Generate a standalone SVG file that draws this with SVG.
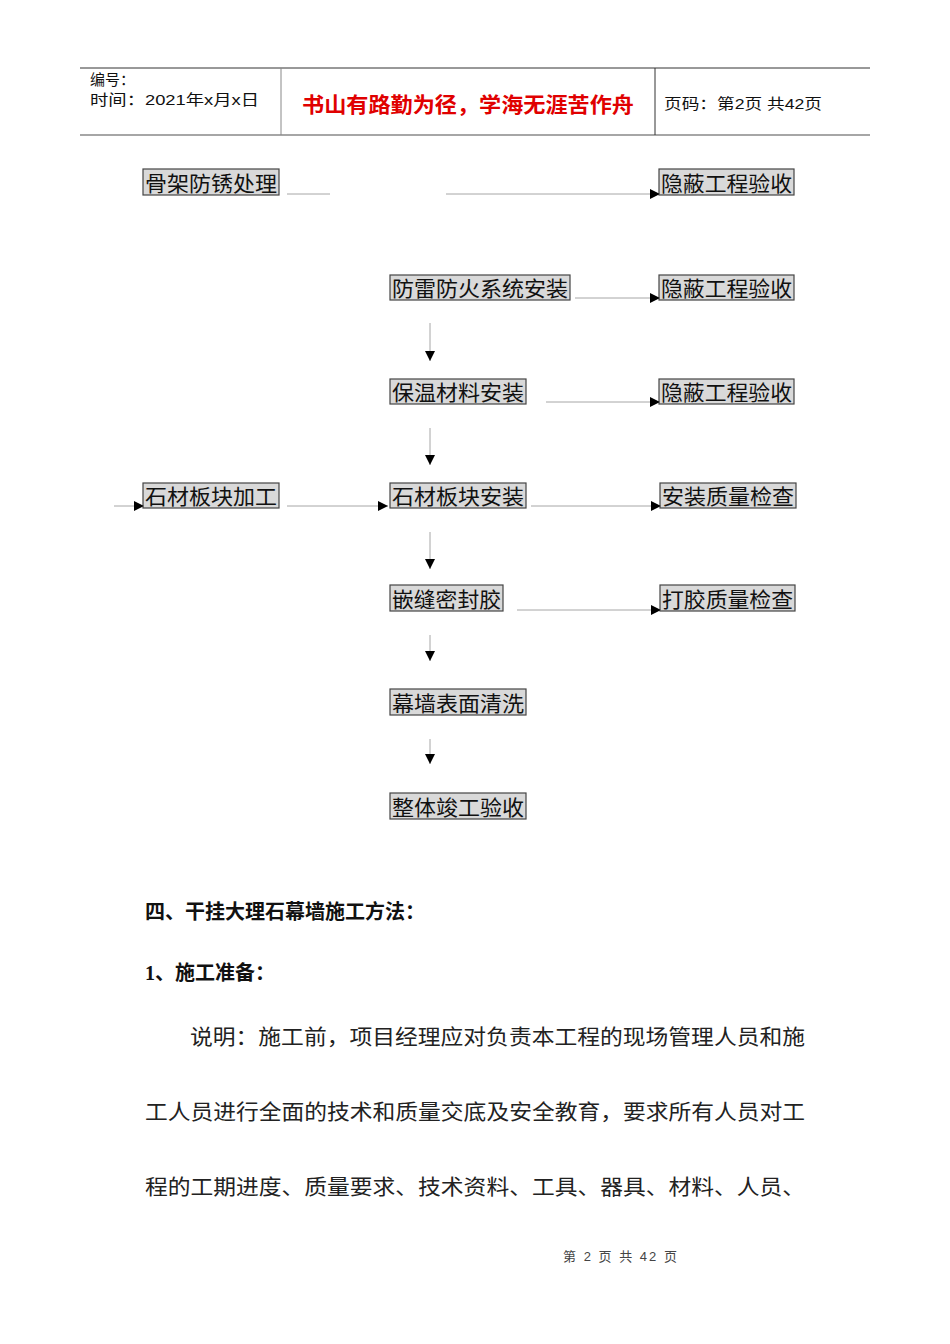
<svg xmlns="http://www.w3.org/2000/svg" width="950" height="1344" viewBox="0 0 950 1344">
<style>
.box{fill:#d9d9d9;stroke:#444;stroke-width:1.2}
.bt{font-family:"Liberation Serif","Noto Sans CJK SC",serif;font-size:21px;fill:#111}
.c{stroke:#a6a6a6;stroke-width:1;fill:none}
.ca{stroke:#a6a6a6;stroke-width:1;fill:none;marker-end:url(#ah)}
.h{font-family:"Liberation Sans","Noto Sans CJK SC",sans-serif;font-size:15px;fill:#111}
.body{font-family:"Liberation Serif","Noto Sans CJK SC",serif;font-size:21px;fill:#222}
.bold{font-family:"Liberation Serif","Noto Sans CJK SC",serif;font-size:20px;font-weight:bold;fill:#111}
</style>
<defs>
<marker id="ah" markerUnits="userSpaceOnUse" markerWidth="11" markerHeight="11" refX="10" refY="5" orient="auto">
<path d="M0,0 L10,5 L0,10 Z" fill="#000"/>
</marker>
</defs>
<rect width="950" height="1344" fill="#fff"/>
<g id="header">
<line x1="80" y1="68" x2="870" y2="68" stroke="#333" stroke-width="1"/>
<line x1="80" y1="135" x2="870" y2="135" stroke="#888" stroke-width="1.5"/>
<line x1="281" y1="68" x2="281" y2="135" stroke="#888" stroke-width="1"/>
<line x1="655" y1="68" x2="655" y2="135" stroke="#333" stroke-width="1"/>
<text class="h" x="90" y="85">编号：</text>
<text class="h" x="90" y="105" textLength="169" lengthAdjust="spacingAndGlyphs">时间：2021年x月x日</text>
<text x="302" y="112" textLength="332" lengthAdjust="spacingAndGlyphs" font-family="Liberation Sans,'Noto Sans CJK SC',sans-serif" font-size="21" font-weight="bold" fill="#e00000">书山有路勤为径，学海无涯苦作舟</text>
<text class="h" x="664" y="109" textLength="158" lengthAdjust="spacingAndGlyphs">页码：第2页 共42页</text>
</g>
<g id="n1"><rect class="box" x="143" y="169" width="136" height="26"/><text class="bt" x="145" y="191" textLength="132" lengthAdjust="spacingAndGlyphs">骨架防锈处理</text></g>
<g id="n2"><rect class="box" x="659" y="169" width="135" height="26"/><text class="bt" x="661" y="191" textLength="131" lengthAdjust="spacingAndGlyphs">隐蔽工程验收</text></g>
<g id="n3"><rect class="box" x="390" y="275" width="180" height="25"/><text class="bt" x="392" y="296" textLength="176" lengthAdjust="spacingAndGlyphs">防雷防火系统安装</text></g>
<g id="n4"><rect class="box" x="659" y="275" width="135" height="25"/><text class="bt" x="661" y="296" textLength="131" lengthAdjust="spacingAndGlyphs">隐蔽工程验收</text></g>
<g id="n5"><rect class="box" x="390" y="379" width="136" height="25"/><text class="bt" x="392" y="400" textLength="132" lengthAdjust="spacingAndGlyphs">保温材料安装</text></g>
<g id="n6"><rect class="box" x="659" y="379" width="135" height="25"/><text class="bt" x="661" y="400" textLength="131" lengthAdjust="spacingAndGlyphs">隐蔽工程验收</text></g>
<g id="n7"><rect class="box" x="143" y="483" width="136" height="25"/><text class="bt" x="145" y="504" textLength="132" lengthAdjust="spacingAndGlyphs">石材板块加工</text></g>
<g id="n8"><rect class="box" x="390" y="483" width="136" height="25"/><text class="bt" x="392" y="504" textLength="132" lengthAdjust="spacingAndGlyphs">石材板块安装</text></g>
<g id="n9"><rect class="box" x="660" y="483" width="136" height="25"/><text class="bt" x="662" y="504" textLength="132" lengthAdjust="spacingAndGlyphs">安装质量检查</text></g>
<g id="n10"><rect class="box" x="390" y="585" width="113" height="26"/><text class="bt" x="392" y="607" textLength="109" lengthAdjust="spacingAndGlyphs">嵌缝密封胶</text></g>
<g id="n11"><rect class="box" x="660" y="585" width="135" height="26"/><text class="bt" x="662" y="607" textLength="131" lengthAdjust="spacingAndGlyphs">打胶质量检查</text></g>
<g id="n12"><rect class="box" x="390" y="689" width="136" height="26"/><text class="bt" x="392" y="711" textLength="132" lengthAdjust="spacingAndGlyphs">幕墙表面清洗</text></g>
<g id="n13"><rect class="box" x="390" y="793" width="136" height="26"/><text class="bt" x="392" y="815" textLength="132" lengthAdjust="spacingAndGlyphs">整体竣工验收</text></g>
<g id="connectors">
<line class="c" x1="287" y1="194" x2="330" y2="194"/>
<line class="ca" x1="446" y1="194" x2="660" y2="194"/>
<line class="ca" x1="575" y1="298" x2="660" y2="298"/>
<line class="ca" x1="430" y1="323" x2="430" y2="361"/>
<line class="ca" x1="546" y1="402" x2="660" y2="402"/>
<line class="ca" x1="430" y1="428" x2="430" y2="465"/>
<line class="ca" x1="114" y1="506" x2="144" y2="506"/>
<line class="ca" x1="287" y1="506" x2="388" y2="506"/>
<line class="ca" x1="531" y1="506" x2="661" y2="506"/>
<line class="ca" x1="430" y1="532" x2="430" y2="569"/>
<line class="ca" x1="517" y1="610" x2="661" y2="610"/>
<line class="ca" x1="430" y1="635" x2="430" y2="661"/>
<line class="ca" x1="430" y1="739" x2="430" y2="764"/>
</g>
<g id="text">
<text class="bold" x="145" y="919">四、干挂大理石幕墙施工方法：</text>
<text class="bold" x="145" y="980">1、施工准备：</text>
<text class="body" x="190" y="1044" textLength="615" lengthAdjust="spacingAndGlyphs">说明：施工前，项目经理应对负责本工程的现场管理人员和施</text>
<text class="body" x="145" y="1119" textLength="660" lengthAdjust="spacingAndGlyphs">工人员进行全面的技术和质量交底及安全教育，要求所有人员对工</text>
<text class="body" x="145" y="1194" textLength="660" lengthAdjust="spacingAndGlyphs">程的工期进度、质量要求、技术资料、工具、器具、材料、人员、</text>
<text x="563" y="1261" textLength="114" lengthAdjust="spacing" font-family="Liberation Sans,'Noto Sans CJK SC',sans-serif" font-size="13" fill="#444" xml:space="preserve">第 2 页 共 42 页</text>
</g>
</svg>
